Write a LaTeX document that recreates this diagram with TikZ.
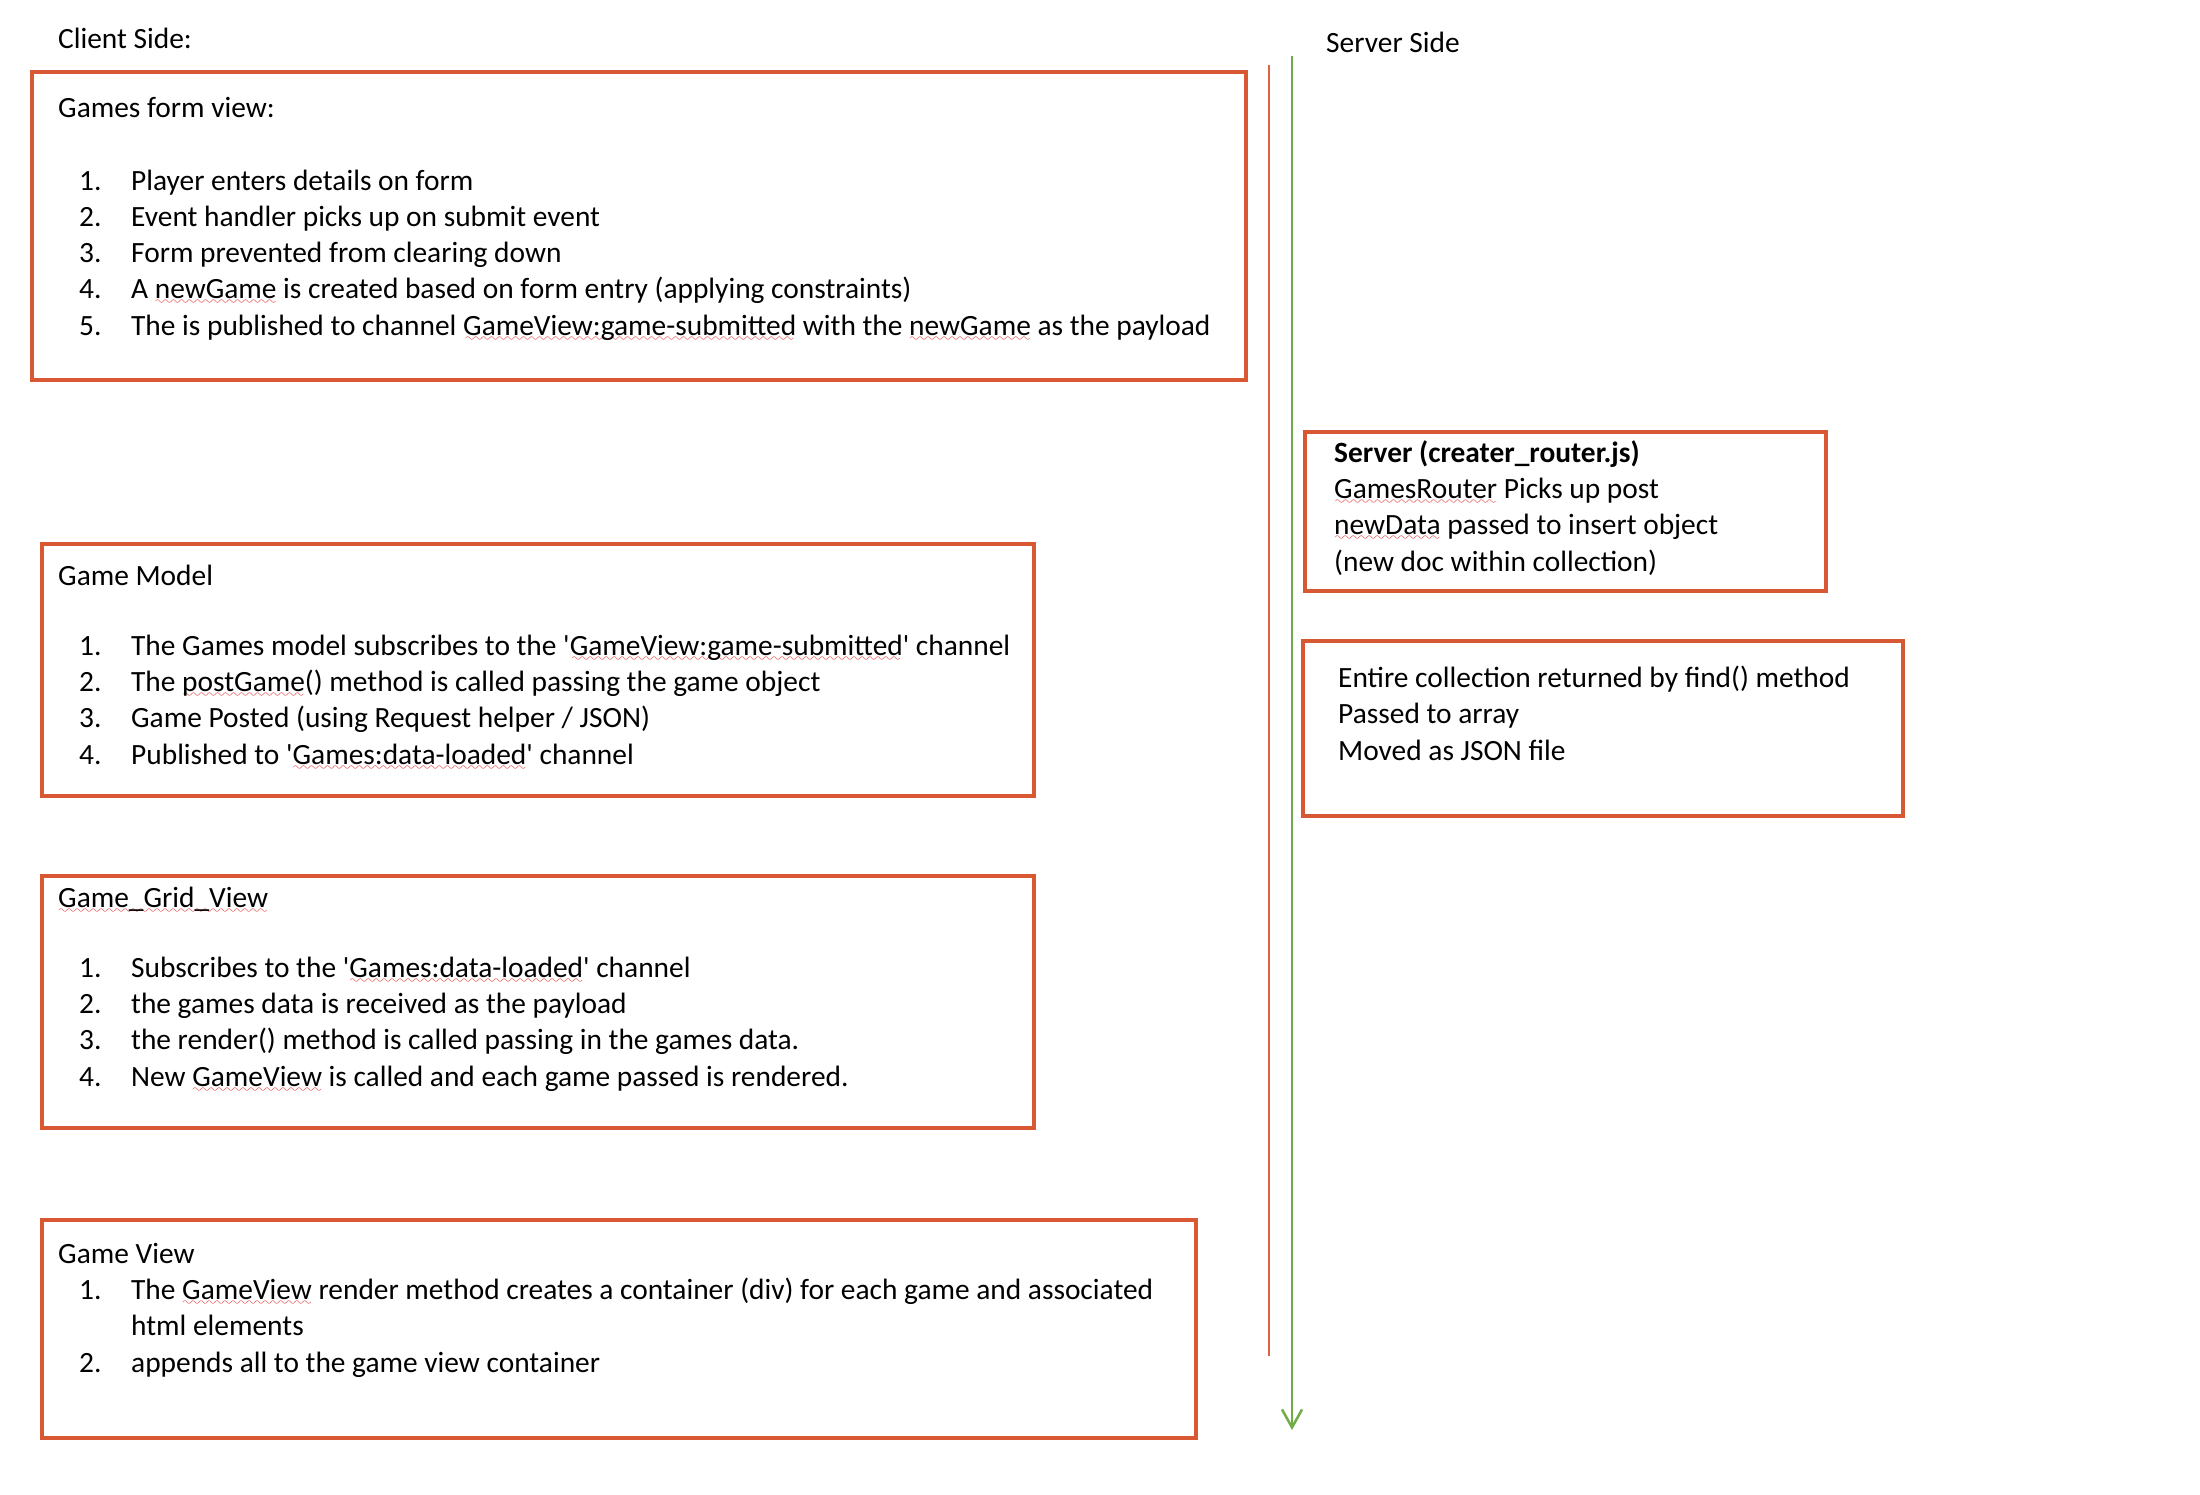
\documentclass[tikz,border=0pt]{standalone}
\usepackage{fontspec}
\setmainfont{Carlito}
\usetikzlibrary{positioning, arrows.meta}
\definecolor{boxcolor}{RGB}{216,88,52}
\definecolor{linecolor}{RGB}{222,98,66}
\definecolor{flowcolor}{RGB}{112,173,71}
\definecolor{spellcolor}{RGB}{225,30,30}
\newsavebox{\spellbox}
\newcommand{\spell}[1]{\sbox{\spellbox}{#1}\rlap{\lower6pt\hbox to\wd\spellbox{\color{spellcolor}\cleaders\hbox{\fontsize{13}{13}\usefont{U}{lasy}{m}{n}\char58}\hfill}}\usebox{\spellbox}}
\newcommand{\stepitem}[2]{\hspace*{21pt}\makebox[52pt][l]{#1.}#2}
\newcommand{\sq}{\textquotesingle}

\begin{document}
\begin{tikzpicture}[
    x=1pt, y=-1pt,
    font=\fontsize{29.4}{36.2}\selectfont,
    box/.style={rectangle, draw=boxcolor, line width=4pt, outer sep=0pt, inner sep=0pt, anchor=north west},
    txt/.style={anchor=base west, align=left, inner sep=0pt},
    side/.style={draw=linecolor, line width=2.5pt},
    flow/.style={draw=flowcolor, line width=2.5pt, -{Straight Barb[length=18pt, width=20pt]}}
]
    \useasboundingbox (0,0) rectangle (2200,1494);

    % Headings
    \node[txt] (clientlbl) at (58,48) {Client Side:};
    \node[txt] (serverlbl) at (1326,52) {Server Side};

    % Client boxes
    \node[box, minimum width=1214, minimum height=308] (formbox) at (32,72) {};
    \node[box, minimum width=992, minimum height=252] (modelbox) at (42,544) {};
    \node[box, minimum width=992, minimum height=252] (gridbox) at (42,876) {};
    \node[box, minimum width=1154, minimum height=218] (viewbox) at (42,1220) {};

    % Server boxes
    \node[box, minimum width=521, minimum height=159] (routerbox) at (1305,432) {};
    \node[box, minimum width=600, minimum height=175] (findbox) at (1303,641) {};

    % Box texts (placed at the baseline of their last line)
    \node[txt] (formtxt) at (58,335) {Games form view:\\[36.2pt]
        \stepitem{1}{Player enters details on form}\\
        \stepitem{2}{Event handler picks up on submit event}\\
        \stepitem{3}{Form prevented from clearing down}\\
        \stepitem{4}{A \spell{newGame} is created based on form entry (applying constraints)}\\
        \stepitem{5}{The is published to channel \spell{GameView:game-submitted} with the \spell{newGame} as the payload}};
    \node[txt] (modeltxt) at (58,764) {Game Model\\[34pt]
        \stepitem{1}{The Games model subscribes to the \sq\spell{GameView:game-submitted}\sq{} channel}\\
        \stepitem{2}{The \spell{postGame}() method is called passing the game object}\\
        \stepitem{3}{Game Posted (using Request helper / JSON)}\\
        \stepitem{4}{Published to \sq\spell{Games:data-loaded}\sq{} channel}};
    \node[txt] (gridtxt) at (58,1086) {\spell{Game\_Grid\_View}\\[34pt]
        \stepitem{1}{Subscribes to the \sq\spell{Games:data-loaded}\sq{} channel}\\
        \stepitem{2}{the games data is received as the payload}\\
        \stepitem{3}{the render() method is called passing in the games data.}\\
        \stepitem{4}{New \spell{GameView} is called and each game passed is rendered.}};
    \node[txt] (viewtxt) at (58,1372) {Game View\\
        \stepitem{1}{The \spell{GameView} render method creates a container (div) for each game and associated}\\
        \hspace*{73pt}html elements\\
        \stepitem{2}{appends all to the game view container}};
    \node[txt] (routertxt) at (1334,571) {\textbf{Server (creater\_router.js)}\\
        \spell{GamesRouter} Picks up post\\
        \spell{newData} passed to insert object\\
        (new doc within collection)};
    \node[txt] (findtxt) at (1338,760) {Entire collection returned by find() method\\
        Passed to array\\
        Moved as JSON file};

    % Divider and flow line
    \coordinate (redtop) at (1269,65);
    \coordinate (redend) at (1269,1356);
    \coordinate (flowtop) at (1292,56);
    \coordinate (flowend) at (1292,1430);
    \draw[side] (redtop) -- (redend);
    \draw[flow] (flowtop) -- (flowend);

\end{tikzpicture}
\end{document}
